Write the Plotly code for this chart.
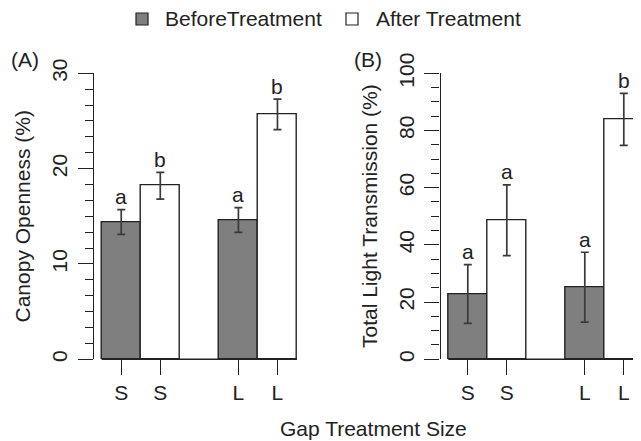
import plotly.graph_objects as go

# ---- data ----
group_labels = ["S", "L"]
series_names = ["BeforeTreatment", "After Treatment"]

canopy_before = [14.4, 14.6]
canopy_before_err = [1.3, 1.3]
canopy_after = [18.2, 25.7]
canopy_after_err = [1.4, 1.6]
canopy_letters_before = ["a", "a"]
canopy_letters_after = ["b", "b"]

light_before = [22.8, 25.2]
light_before_err = [10.3, 12.2]
light_after = [48.6, 83.9]
light_after_err = [12.4, 9.1]
light_letters_before = ["a", "a"]
light_letters_after = ["a", "b"]

# ---- style ----
FONT = "Liberation Sans, Arial, Helvetica, sans-serif"
FS = 21
INK = "#222222"
GRAY = "#7f7f7f"
OFF = 8                      # page body margin
W, H = 641 - OFF, 441 - OFF  # figure fits the window exactly


def px(xw):
    return (xw - OFF) / W


def py(yw):
    return 1 - (yw - OFF) / H


# R barplot(beside=TRUE) positions: bar width 1, space 1 before each group
def centers(j):
    return [1.5 + 3 * g + j for g in range(len(group_labels))]


fig = go.Figure()

panels = [
    dict(xa="x", ya="y", before=canopy_before, be=canopy_before_err,
         after=canopy_after, ae=canopy_after_err,
         lb=canopy_letters_before, la=canopy_letters_after),
    dict(xa="x2", ya="y2", before=light_before, be=light_before_err,
         after=light_after, ae=light_after_err,
         lb=light_letters_before, la=light_letters_after),
]

annotations = []
shapes = []
for p in panels:
    for j, (vals, errs, letters, fill) in enumerate([
        (p["before"], p["be"], p["lb"], GRAY),
        (p["after"], p["ae"], p["la"], "white"),
    ]):
        xs = centers(j)
        fig.add_trace(go.Bar(
            x=xs, y=vals, width=1.0, xaxis=p["xa"], yaxis=p["ya"],
            marker=dict(color=fill, line=dict(color=INK, width=1.4)),
            error_y=dict(type="data", array=errs, visible=True,
                         color="#3a3a3a", thickness=1.7, width=4),
            cliponaxis=False, showlegend=False, name=series_names[j],
        ))
        for x, v, e, t in zip(xs, vals, errs, letters):
            annotations.append(dict(
                x=x, y=v + e, xref=p["xa"], yref=p["ya"], text=t,
                showarrow=False, yshift=13, xanchor="center", yanchor="middle",
                font=dict(family=FONT, size=FS, color=INK)))
    # baseline under the bars
    shapes.append(dict(type="line", xref=p["xa"], yref="paper",
                       x0=1, x1=1 + 3 * len(group_labels) - 1,
                       y0=py(359.2), y1=py(359.2),
                       line=dict(color=INK, width=1.4)))

ydom = [py(359.2), py(73.3)]


def yaxis_style(rng, dtick, minor_dtick, anchor):
    return dict(
        domain=ydom, range=rng, anchor=anchor, tickmode="linear", tick0=0,
        dtick=dtick, showgrid=False, zeroline=False, showline=True,
        linecolor=INK, linewidth=1.3, ticks="outside", ticklen=15,
        tickwidth=1.3, tickcolor=INK, tickangle=-90, automargin=False,
        tickfont=dict(family=FONT, size=FS, color=INK),
        ticklabelstandoff=2,
        minor=dict(dtick=minor_dtick, tick0=0, ticks="outside", ticklen=8,
                   tickwidth=1.3, tickcolor=INK, showgrid=False),
    )


def xaxis_style(dom, rng, anchor):
    return dict(
        domain=dom, range=rng, anchor=anchor, showgrid=False, zeroline=False,
        showline=False, tickmode="array", automargin=False,
        tickvals=[c for g in range(len(group_labels)) for c in (1.5 + 3 * g, 2.5 + 3 * g)],
        ticktext=[lab for lab in group_labels for _ in (0, 1)],
        ticks="outside", ticklen=15, tickwidth=1.3, tickcolor=INK,
        tickfont=dict(family=FONT, size=FS, color=INK), ticklabelstandoff=0,
    )


fig.update_layout(
    template="none",
    width=W, height=H, autosize=False,
    margin=dict(l=0, r=0, t=0, b=0, pad=0),
    paper_bgcolor="white", plot_bgcolor="white",
    font=dict(family=FONT, size=FS, color=INK),
    bargap=0, showlegend=False,
    xaxis=xaxis_style([px(93.9), px(304.8)], [0.8, 6.2], "y"),
    yaxis=yaxis_style([0, 30], 10, 10 / 6, "x"),
    xaxis2=xaxis_style([px(440.5), 1.0], [0.8, 0.8 + 200.5 / 39.0], "y2"),
    yaxis2=yaxis_style([0, 100], 20, 5, "x2"),
)

# axis titles, panel labels, legend
txt = dict(showarrow=False, xref="paper", yref="paper", yanchor="middle",
           font=dict(family=FONT, size=FS, color=INK))
annotations += [
    dict(text="Canopy Openness (%)", x=px(22), y=py(216.5), textangle=-90, xanchor="center", **txt),
    dict(text="Total Light Transmission (%)", x=px(369), y=py(216), textangle=-90, xanchor="center", **txt),
    dict(text="Gap Treatment Size", x=px(373), y=py(428), xanchor="center", **txt),
    dict(text="(A)", x=px(25), y=py(60), xanchor="center", **txt),
    dict(text="(B)", x=px(367.5), y=py(59), xanchor="center", **txt),
    dict(text=series_names[0], x=px(163), y=py(19), xanchor="left", **txt),
    dict(text=series_names[1], x=px(374), y=py(19), xanchor="left", **txt),
]
for x0, fill in [(136, GRAY), (346, "white")]:
    shapes.append(dict(type="rect", xref="paper", yref="paper",
                       x0=px(x0), x1=px(x0 + 12), y0=py(25), y1=py(13),
                       fillcolor=fill, line=dict(color=INK, width=1.2)))

fig.update_layout(annotations=annotations, shapes=shapes)
fig.write_html("out.html")
